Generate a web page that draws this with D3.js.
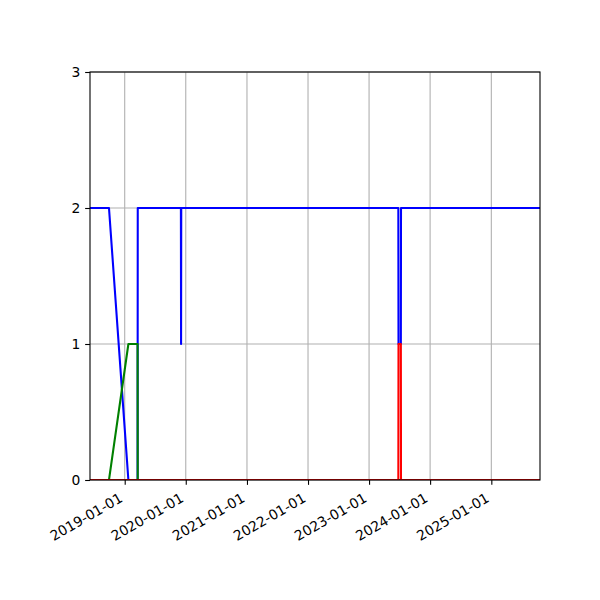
<!DOCTYPE html>
<html>
<head>
<meta charset="utf-8">
<script src="https://cdn.jsdelivr.net/npm/d3@7"></script>
<style>
body { margin: 0; background: #fff; }
svg { display: block; }
text { font-family: "DejaVu Sans", sans-serif; }
</style>
</head>
<body>
<script>
// ---- data ----
const xDomain = ["2018-06-07T12:00", "2025-10-19"];
const xTickDates = ["2019-01-01", "2020-01-01", "2021-01-01", "2022-01-01", "2023-01-01", "2024-01-01", "2025-01-01"];
const yTicks = [0, 1, 2, 3];

const blueDates  = ["2018-06-07T12:00", "2018-09-29", "2019-01-23", "2019-03-19", "2019-03-20", "2019-12-03", "2019-12-04", "2019-12-05", "2023-06-25", "2023-06-26", "2023-07-10", "2023-07-11", "2025-10-19"];
const blueValues = [2, 2, 0, 0, 2, 2, 1, 2, 2, 1, 1, 2, 2];

const greenDates  = ["2018-06-07T12:00", "2018-09-29", "2019-01-23", "2019-03-19", "2019-03-20", "2025-10-19"];
const greenValues = [0, 0, 1, 1, 0, 0];

const redDates  = ["2018-06-07T12:00", "2023-06-25", "2023-06-26", "2023-07-10", "2023-07-11", "2025-10-19"];
const redValues = [0, 0, 1, 1, 0, 0];

// ---- chart ----
const W = 600, H = 600;
const L = 90, R = 540, T = 72, B = 480;
const parse = s => new Date(s);

const svg = d3.select("body").append("svg").attr("width", W).attr("height", H);

const x = d3.scaleTime().domain(xDomain.map(parse)).range([L, R]);
const y = d3.scaleLinear().domain([0, 3]).range([B, T]);

const grid = "#b0b0b0";
// grid lines
svg.append("g").selectAll("line").data(xTickDates.map(parse)).join("line")
  .attr("x1", d => x(d)).attr("x2", d => x(d)).attr("y1", T).attr("y2", B)
  .attr("stroke", grid).attr("stroke-width", 1.1);
svg.append("g").selectAll("line").data(yTicks).join("line")
  .attr("x1", L).attr("x2", R).attr("y1", d => y(d)).attr("y2", d => y(d))
  .attr("stroke", grid).attr("stroke-width", 1.1);

// lines
svg.append("clipPath").attr("id", "clip").append("rect")
  .attr("x", L).attr("y", T).attr("width", R - L).attr("height", B - T);
const line = d3.line().x(d => x(d[0])).y(d => y(d[1]));
const series = [
  [blueDates, blueValues, "#0000ff"],
  [greenDates, greenValues, "#008000"],
  [redDates, redValues, "#ff0000"]
];
const lg = svg.append("g").attr("clip-path", "url(#clip)");
series.forEach(([ds, vs, c]) => {
  lg.append("path")
    .datum(ds.map((d, i) => [parse(d), vs[i]]))
    .attr("d", line)
    .attr("fill", "none")
    .attr("stroke", c)
    .attr("stroke-width", 2.08)
    .attr("stroke-linejoin", "round")
    .attr("stroke-linecap", "square");
});

// spines
svg.append("rect").attr("x", L).attr("y", T).attr("width", R - L).attr("height", B - T)
  .attr("fill", "none").attr("stroke", "#000").attr("stroke-width", 1.1);

// x axis
const fmt = d3.timeFormat("%Y-%m-%d");
const xAxis = d3.axisBottom(x).tickValues(xTickDates.map(parse)).tickFormat(fmt)
  .tickSizeInner(4.86).tickSizeOuter(0).tickPadding(4.86);
const gx = svg.append("g").attr("transform", `translate(0,${B})`).call(xAxis);
gx.select(".domain").remove();
gx.selectAll(".tick line").attr("stroke", "#000").attr("stroke-width", 1.1);
const fs = 13.89, asc = 0.928 * fs, desc = 0.236 * fs;
gx.selectAll(".tick text")
  .attr("font-size", fs)
  .attr("fill", "#000")
  .attr("font-family", "DejaVu Sans")
  .attr("text-anchor", "end")
  .attr("dy", null)
  .attr("y", null)
  .attr("transform", `translate(${-0.5 * desc},${4.86 + 4.86 + 0.866 * asc}) rotate(-30)`);

// y axis
const yAxis = d3.axisLeft(y).tickValues(yTicks).tickFormat(d3.format("d"))
  .tickSizeInner(4.86).tickSizeOuter(0).tickPadding(4.86);
const gy = svg.append("g").attr("transform", `translate(${L},0)`).call(yAxis);
gy.select(".domain").remove();
gy.selectAll(".tick line").attr("stroke", "#000").attr("stroke-width", 1.1);
gy.selectAll(".tick text").attr("font-size", fs).attr("fill", "#000").attr("font-family", "DejaVu Sans");
</script>
</body>
</html>
